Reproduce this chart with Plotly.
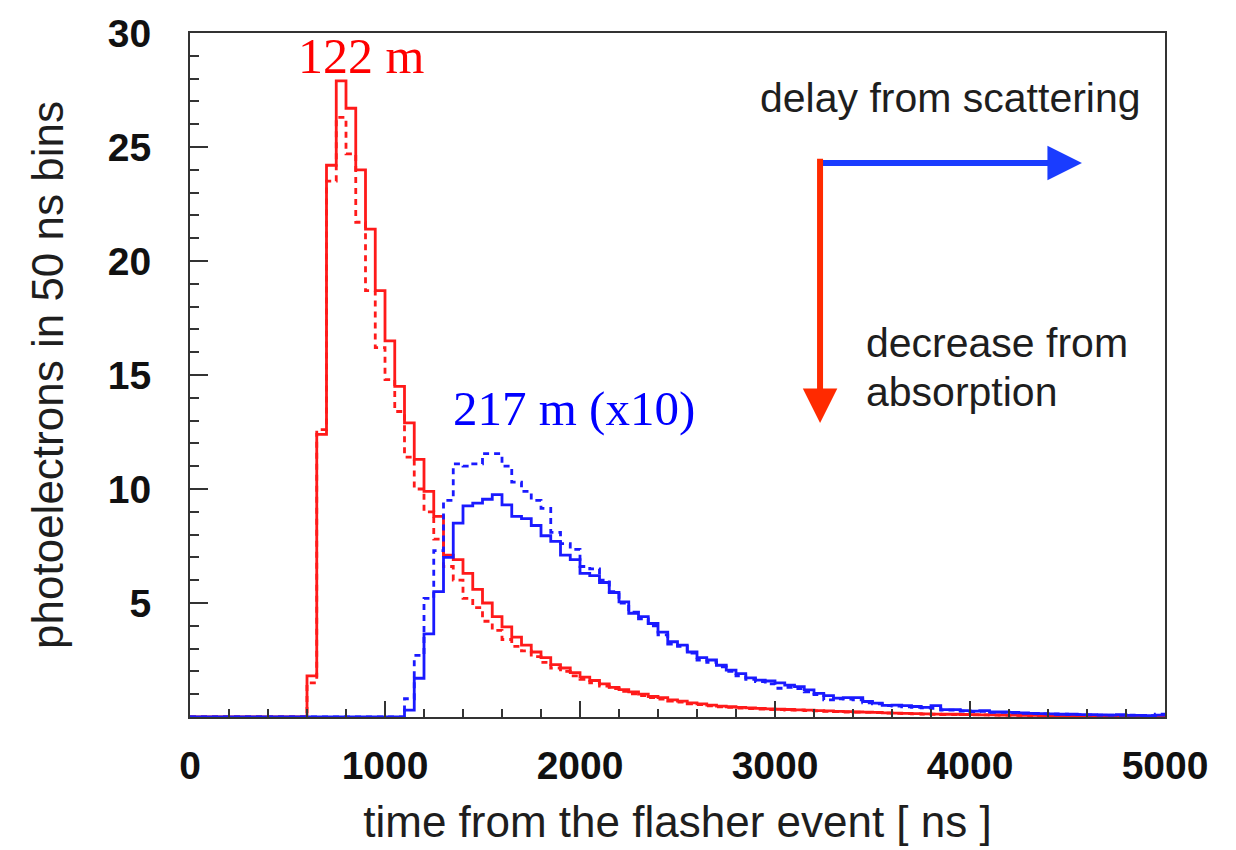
import plotly.graph_objects as go

BIN = 50
X_MAX = 5000

# ---- data (photoelectrons per 50 ns bin) ----
red_start = 600
red_solid = [1.8, 12.4, 24.2, 27.9, 26.7, 24.0, 21.4, 18.7, 16.5, 14.5,
             12.9, 11.3, 9.9, 8.8, 7.1, 6.9, 6.3, 5.6, 5.0, 4.4,
             3.95, 3.5, 3.15, 2.85, 2.6, 2.3, 2.15, 1.95, 1.75, 1.6,
             1.45, 1.3, 1.2, 1.1, 1.0, 0.9, 0.85, 0.75, 0.7, 0.62,
             0.58, 0.52, 0.48, 0.45, 0.42, 0.4, 0.38, 0.36, 0.34, 0.33,
             0.31, 0.3, 0.28, 0.27, 0.25, 0.24, 0.22, 0.21, 0.2, 0.18,
             0.17, 0.16, 0.15, 0.14, 0.13, 0.12, 0.12, 0.11, 0.1, 0.09,
             0.09, 0.08, 0.08, 0.07, 0.07, 0.06, 0.06, 0.05, 0.05, 0.05,
             0.04, 0.04, 0.04, 0.03, 0.03, 0.03, 0.03, 0.03]
red_dashed = [1.5, 12.6, 23.5, 26.3, 24.7, 21.7, 18.7, 16.2, 14.8, 13.4,
              11.4, 10.0, 9.0, 7.8, 6.6, 6.0, 5.2, 4.8, 4.2, 3.8,
              3.4, 3.1, 2.9, 2.65, 2.4, 2.15, 2.0, 1.8, 1.65, 1.5,
              1.35, 1.25, 1.12, 1.02, 0.94, 0.85, 0.78, 0.7, 0.65, 0.58,
              0.54, 0.49, 0.45, 0.42, 0.39, 0.37, 0.35, 0.33, 0.32, 0.3,
              0.3, 0.28, 0.27, 0.25, 0.24, 0.22, 0.21, 0.2, 0.19, 0.17,
              0.16, 0.15, 0.14, 0.13, 0.12, 0.11, 0.11, 0.1, 0.09, 0.09,
              0.08, 0.08, 0.07, 0.07, 0.06, 0.06, 0.05, 0.05, 0.05, 0.04,
              0.04, 0.04, 0.03, 0.03, 0.03, 0.03, 0.02, 0.02]

blue_start = 1100
blue_solid = [0.3, 1.7, 3.65, 5.5, 7.0, 8.5, 9.26, 9.38, 9.55, 9.75,
              9.3, 8.8, 8.7, 8.4, 7.95, 7.7, 7.1, 6.9, 6.3, 6.2,
              5.9, 5.46, 5.05, 4.55, 4.4, 4.1, 3.72, 3.3, 3.15, 2.85,
              2.6, 2.5, 2.27, 2.06, 1.9, 1.72, 1.62, 1.58, 1.5, 1.4,
              1.33, 1.19, 1.04, 0.94, 0.83, 0.85, 0.85, 0.68, 0.61, 0.51,
              0.52, 0.5, 0.46, 0.42, 0.5, 0.32, 0.32, 0.28, 0.26, 0.28,
              0.22, 0.22, 0.2, 0.18, 0.16, 0.15, 0.14, 0.12, 0.12, 0.1,
              0.1, 0.09, 0.08, 0.1, 0.07, 0.07, 0.06, 0.08]
blue_dashed = [0.8, 2.7, 5.2, 7.3, 9.5, 11.1, 11.0, 11.1, 11.55, 11.55,
               11.0, 10.3, 9.9, 9.5, 9.15, 8.1, 7.6, 7.35, 6.6, 6.5,
               6.0, 5.5, 5.0, 4.6, 4.3, 4.0, 3.6, 3.2, 3.1, 2.8,
               2.5, 2.4, 2.2, 2.0, 1.8, 1.65, 1.55, 1.45, 1.26, 1.3,
               1.25, 1.1, 0.98, 0.75, 0.8, 0.78, 0.75, 0.62, 0.58, 0.5,
               0.48, 0.45, 0.42, 0.4, 0.38, 0.3, 0.3, 0.26, 0.24, 0.25,
               0.2, 0.2, 0.18, 0.16, 0.15, 0.14, 0.12, 0.12, 0.1, 0.1,
               0.09, 0.08, 0.08, 0.07, 0.08, 0.06, 0.06, 0.12]

x_ticks = [0, 1000, 2000, 3000, 4000, 5000]
y_ticks = [5, 10, 15, 20, 25, 30]

RED = "#ff1a1a"
BLUE = "#1a1aff"
SANS = "Liberation Sans, Arial, sans-serif"
SERIF = "Liberation Serif, Times New Roman, serif"


def step_xy(start, vals):
    xs = [0, start]
    ys = [0, vals[0]]
    for i, v in enumerate(vals):
        xs.append(start + i * BIN)
        ys.append(v)
    xs.append(start + len(vals) * BIN)
    ys.append(vals[-1])
    if xs[-1] < X_MAX:
        xs.append(X_MAX)
        ys.append(vals[-1])
    return xs, ys


fig = go.Figure()
series = [
    (red_start, red_dashed, RED, "dash"),
    (red_start, red_solid, RED, "solid"),
    (blue_start, blue_dashed, BLUE, "dash"),
    (blue_start, blue_solid, BLUE, "solid"),
]
for start, vals, col, dash in series:
    xs, ys = step_xy(start, vals)
    fig.add_trace(go.Scatter(x=xs, y=ys, mode="lines", line_shape="hv",
                             line=dict(color=col, width=2.8,
                                       dash="6px,5px" if dash == "dash" else "solid"),
                             showlegend=False, hoverinfo="skip"))

TXT = "#1e1e1e"
ann = []
ann.append(dict(x=877, y=29.0, text="122 m", showarrow=False, xref="x", yref="y",
                font=dict(family=SERIF, size=50, color="#ff0000")))
ann.append(dict(x=1969, y=13.55, text="217 m (x10)", showarrow=False, xref="x", yref="y",
                font=dict(family=SERIF, size=49, color="#0000ff")))
ann.append(dict(x=2915, y=27.15, text="delay from scattering", showarrow=False,
                xref="x", yref="y", xanchor="left",
                font=dict(family=SANS, size=41, color=TXT)))
ann.append(dict(x=3455, y=16.42, text="decrease from", showarrow=False,
                xref="x", yref="y", xanchor="left",
                font=dict(family=SANS, size=41, color=TXT)))
ann.append(dict(x=3455, y=14.25, text="absorption", showarrow=False,
                xref="x", yref="y", xanchor="left",
                font=dict(family=SANS, size=41, color=TXT)))
# arrows
ann.append(dict(x=4574, y=24.3, ax=3231, ay=24.3, xref="x", yref="y",
                axref="x", ayref="y", text="", showarrow=True,
                arrowhead=2, arrowsize=1.15, arrowwidth=6, arrowcolor="#1a3cff"))
ann.append(dict(x=3231, y=12.9, ax=3231, ay=24.55, xref="x", yref="y",
                axref="x", ayref="y", text="", showarrow=True,
                arrowhead=2, arrowsize=1.15, arrowwidth=6, arrowcolor="#ff2a00"))

fig.update_layout(
    width=1236, height=850,
    margin=dict(l=190, r=71, t=30, b=131),
    paper_bgcolor="white", plot_bgcolor="white",
    annotations=ann,
    font=dict(family=SANS, color="#111"),
)
fig.update_xaxes(range=[0, X_MAX], tickvals=x_ticks, ticktext=[str(v) for v in x_ticks],
                 ticks="inside", ticklen=16, tickwidth=2, tickcolor="#333",
                 minor=dict(dtick=200, ticks="inside", ticklen=8, tickwidth=2, tickcolor="#333"),
                 showline=True, linecolor="#333", linewidth=2, mirror=True,
                 showgrid=False, zeroline=False,
                 tickfont=dict(family=SANS, size=39, color="#111", weight="bold"),
                 ticklabelstandoff=13,
                 title=dict(text="time from the flasher event [ ns ]",
                            font=dict(family=SANS, size=44, color=TXT), standoff=20))
fig.update_yaxes(range=[0, 30], tickvals=y_ticks, ticktext=[str(v) for v in y_ticks],
                 ticks="inside", ticklen=18, tickwidth=2, tickcolor="#333",
                 minor=dict(dtick=1, ticks="inside", ticklen=9, tickwidth=2, tickcolor="#333"),
                 showline=True, linecolor="#333", linewidth=2, mirror=True,
                 showgrid=False, zeroline=False,
                 tickfont=dict(family=SANS, size=39, color="#111", weight="bold"),
                 ticklabelstandoff=29,
                 title=dict(text="photoelectrons in 50 ns bins",
                            font=dict(family=SANS, size=44, color=TXT), standoff=30))

fig.write_html("out.html")
